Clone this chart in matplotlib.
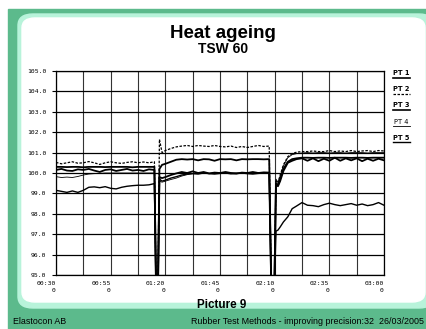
import matplotlib.pyplot as plt
from matplotlib.patches import Rectangle, FancyBboxPatch
from matplotlib.lines import Line2D

# time in minutes, three runs split by two door openings
t_run1 = [30, 32.5, 35, 37.5, 40, 42.5, 45, 47.5, 50, 52.5, 55, 57.5, 60, 62.5, 65, 67.5, 70, 72.5, 75]
t_door1 = [75.8, 76.6]
t_run2 = [77.3, 78.5, 80, 82.5, 85, 87.5, 90, 92.5, 95, 97.5, 100, 102.5, 105, 107.5, 110, 112.5,
          115, 117.5, 120, 122.5, 125, 127.5]
t_door2 = [128.5, 129.8]
t_run3 = [130.6, 131.5, 132.5, 134, 136, 138, 140, 142.5, 145, 147.5, 150, 152.5, 155, 157.5,
          160, 162.5, 165, 167.5, 170, 172.5, 175, 177.5, 180]
door_level = 94.0

pt1_run1 = [100.3, 100.3, 100.29, 100.3, 100.3, 100.28, 100.3, 100.3, 100.3, 100.29, 100.3, 100.3,
            100.3, 100.3, 100.28, 100.3, 100.3, 100.3, 100.3]
pt1_run2 = [100.2, 100.4, 100.45, 100.55, 100.65, 100.68, 100.66, 100.68, 100.62, 100.68, 100.67,
            100.6, 100.68, 100.67, 100.68, 100.62, 100.68, 100.67, 100.68, 100.68, 100.67, 100.68]
pt1_run3 = [99.5, 99.4, 99.7, 100.2, 100.55, 100.68, 100.72, 100.75, 100.75, 100.74, 100.75, 100.75,
            100.74, 100.75, 100.75, 100.75, 100.74, 100.75, 100.75, 100.74, 100.75, 100.75, 100.75]

pt2_run1 = [100.52, 100.45, 100.5, 100.55, 100.48, 100.5, 100.56, 100.5, 100.42, 100.5, 100.55,
            100.5, 100.47, 100.52, 100.55, 100.5, 100.54, 100.5, 100.55]
pt2_run2 = [101.65, 101.0, 101.1, 101.2, 101.28, 101.32, 101.35, 101.3, 101.35, 101.32, 101.3,
            101.35, 101.3, 101.28, 101.32, 101.25, 101.3, 101.25, 101.3, 101.35, 101.3, 101.32]
pt2_run3 = [99.6, 99.5, 99.9, 100.4, 100.8, 100.95, 101.02, 101.05, 101.05, 101.08, 101.05, 101.05,
            101.1, 101.05, 101.08, 101.05, 101.1, 101.05, 101.08, 101.1, 101.05, 101.1, 101.08]

pt3_run1 = [100.15, 100.2, 100.12, 100.1, 100.18, 100.15, 100.2, 100.12, 100.05, 100.15, 100.18,
            100.1, 100.15, 100.2, 100.12, 100.15, 100.1, 100.18, 100.15]
pt3_run2 = [99.8, 99.75, 99.8, 99.9, 99.98, 100.05, 100.0, 100.08, 100.0, 100.05, 99.98, 100.02,
            100.0, 100.05, 100.0, 99.97, 100.02, 100.0, 100.05, 100.0, 100.03, 100.02]
pt3_run3 = [99.45, 99.35, 99.6, 100.1, 100.5, 100.6, 100.68, 100.72, 100.6, 100.72, 100.58, 100.7,
            100.6, 100.75, 100.6, 100.72, 100.62, 100.72, 100.58, 100.7, 100.6, 100.7, 100.62]

pt4_run1 = [99.82, 99.78, 99.8, 99.78, 99.83, 99.9, 99.95, 99.97, 99.98, 100.0, 100.0, 100.0,
            100.0, 100.0, 100.0, 100.0, 100.0, 100.0, 100.0]
pt4_run2 = [99.6, 99.55, 99.6, 99.68, 99.75, 99.85, 99.92, 99.97, 100.0, 100.0, 99.98, 100.0,
            100.0, 100.02, 100.0, 100.0, 99.98, 100.0, 100.0, 100.02, 100.0, 100.0]
pt4_run3 = [99.7, 99.55, 99.85, 100.35, 100.75, 100.9, 100.95, 100.98, 101.0, 100.98, 101.0, 101.0,
            100.98, 101.0, 101.0, 100.98, 101.0, 101.0, 101.0, 100.98, 101.0, 101.0, 101.0]

pt5_run1 = [99.15, 99.1, 99.05, 99.12, 99.05, 99.15, 99.3, 99.32, 99.28, 99.33, 99.25, 99.22,
            99.3, 99.35, 99.38, 99.4, 99.4, 99.42, 99.48]
pt5_run2 = [99.7, 99.6, 99.65, 99.75, 99.82, 99.9, 99.95, 99.97, 99.95, 100.0, 99.97, 99.95,
            99.98, 100.0, 99.96, 99.98, 100.0, 99.97, 99.95, 99.98, 100.0, 99.98]
pt5_run3 = [97.15, 97.2, 97.35, 97.6, 97.85, 98.25, 98.38, 98.55, 98.42, 98.4, 98.35, 98.45,
            98.52, 98.45, 98.4, 98.45, 98.5, 98.42, 98.48, 98.4, 98.45, 98.55, 98.42]

labels = ["PT 1", "PT 2", "PT 3", "PT 4", "PT 5"]
runs = [(pt1_run1, pt1_run2, pt1_run3), (pt2_run1, pt2_run2, pt2_run3), (pt3_run1, pt3_run2, pt3_run3),
        (pt4_run1, pt4_run2, pt4_run3), (pt5_run1, pt5_run2, pt5_run3)]
styles = [dict(lw=1.3, ls="-"), dict(lw=0.9, ls=(0, (2, 1.2))), dict(lw=1.3, ls="-"),
          dict(lw=0.6, ls="-"), dict(lw=1.0, ls="-")]

W, H = 427, 329
green = "#5cba8c"
mint = "#b8f3da"


def fx(px):
    return px / W


def fy(py):
    return 1 - py / H


fig = plt.figure(figsize=(W / 100, H / 100), dpi=100)
fig.patch.set_facecolor("white")

# slide background
fig.add_artist(Rectangle((fx(8), 0), 1, fy(9), transform=fig.transFigure, color=green, zorder=0))
fig.add_artist(FancyBboxPatch((fx(18), fy(308)), fx(416), (308 - 14) / H, transform=fig.transFigure,
                              boxstyle="round,pad=0,rounding_size=0.035", color=mint, zorder=1))
fig.add_artist(FancyBboxPatch((fx(22), fy(302)), fx(403), (302 - 18) / H, transform=fig.transFigure,
                              boxstyle="round,pad=0,rounding_size=0.03", color="white", zorder=2))

fig.text(fx(223), fy(33), "Heat ageing", ha="center", va="center", fontsize=13.5,
         fontweight="bold", family="Liberation Sans", zorder=5)
fig.text(fx(223), fy(49), "TSW 60", ha="center", va="center", fontsize=10,
         fontweight="bold", family="Liberation Sans", zorder=5)
fig.text(fx(222), fy(305), "Picture 9", ha="center", va="center", fontsize=8.4,
         fontweight="bold", family="Liberation Sans", zorder=5)
fig.text(fx(13), fy(322), "Elastocon AB", ha="left", va="center", fontsize=6.4,
         family="Liberation Sans", zorder=5)
fig.text(fx(191), fy(322), "Rubber Test Methods - improving precision:32  26/03/2005", ha="left",
         va="center", fontsize=6.4, family="Liberation Sans", zorder=5)

ax = fig.add_axes([fx(56), fy(275), fx(384) - fx(56), fy(71) - fy(275)])
ax.set_zorder(4)
ax.patch.set_alpha(0)

for (r1, r2, r3), st in zip(runs, styles):
    t = t_run1 + t_door1 + t_run2 + t_door2 + t_run3
    v = r1 + [door_level] * 2 + r2 + [door_level] * 2 + r3
    ax.plot(t, v, color="black", lw=st["lw"], ls=st["ls"], zorder=3)

ax.set_xlim(30, 180)
ax.set_ylim(95, 105)
major = list(range(30, 181, 25))
ax.set_xticks(major)
ax.set_xticks([m + 12.5 for m in major[:-1]], minor=True)
ax.set_xticklabels(["%02d:%02d\n0" % (m // 60, m % 60) for m in major], ha="right",
                   family="DejaVu Sans Mono", fontsize=4.6, linespacing=1.7)
ax.set_yticks(range(95, 106))
ax.set_yticklabels(["%.1f" % y for y in range(95, 106)], family="DejaVu Sans Mono", fontsize=4.6)
ax.tick_params(axis="x", which="both", length=0, pad=4)
ax.tick_params(axis="y", length=3, width=0.8, pad=4)
ax.grid(True, axis="y", color="black", lw=0.9)
ax.grid(True, axis="x", which="both", color="#333333", lw=0.8)
for s in ax.spines.values():
    s.set_linewidth(0.9)

# legend as underlined labels on the right
leg_y = [73, 89, 105, 122, 138]
for lab, st, py in zip(labels, styles, leg_y):
    fig.text(fx(401.5), fy(py), lab, ha="center", va="center", fontsize=4.8,
             fontweight="normal" if lab == "PT 4" else "bold", zorder=6)
    fig.add_artist(Line2D([fx(393), fx(410)], [fy(py + 4.5), fy(py + 4.5)], transform=fig.transFigure,
                          color="black", lw=min(st["lw"], 1.2), ls=st["ls"], zorder=6))

plt.savefig("out.png", dpi=100)
